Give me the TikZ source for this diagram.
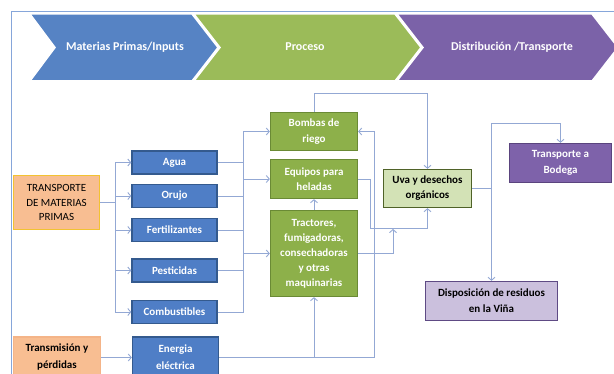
\documentclass[tikz,border=0pt]{standalone}
\usepackage{fontspec}
\setmainfont{Carlito}
\usetikzlibrary{arrows.meta}
\definecolor{chblue}{HTML}{5683C4}
\definecolor{chgreen}{HTML}{9BBB59}
\definecolor{chpurple}{HTML}{7B62A8}
\definecolor{bxblue}{HTML}{4F7EC6}
\definecolor{bxblueD}{HTML}{345A8E}
\definecolor{bxgreen}{HTML}{8DB04A}
\definecolor{bxgreenD}{HTML}{6A8A35}
\definecolor{uvafill}{HTML}{D3E2B6}
\definecolor{uvadraw}{HTML}{4F6228}
\definecolor{bodfill}{HTML}{7E62AA}
\definecolor{boddraw}{HTML}{5A447E}
\definecolor{dispfill}{HTML}{CBC0DD}
\definecolor{dispdraw}{HTML}{5E4A84}
\definecolor{orfill}{HTML}{F8BE92}
\definecolor{ordraw}{HTML}{F2C232}
\definecolor{ordraw2}{HTML}{F4B488}
\definecolor{conncol}{HTML}{93A8D4}
\definecolor{framecol}{HTML}{86A6DA}
\tikzset{
  box/.style={rectangle, line width=1.3pt, align=center, inner sep=1pt,
    font=\fontsize{11}{15.5}\selectfont\bfseries},
  bluebox/.style={box, fill=bxblue, draw=bxblueD, text=white, minimum width=85pt, minimum height=23pt},
  greenbox/.style={box, fill=bxgreen, draw=bxgreenD, text=white, minimum width=87pt},
  conn/.style={draw=conncol, line width=0.9pt},
  arr/.style={conn, -{Straight Barb[length=3pt,width=7pt]}},
  chev/.style={draw=white, line width=1.5pt},
  chevtext/.style={text=white, font=\fontsize{12}{14}\selectfont\bfseries}
}
\begin{document}
\begin{tikzpicture}[x=1pt,y=-1pt]
\useasboundingbox (0,0) rectangle (614,374);
\clip (0,0) rectangle (614,374);
\fill[white] (0,0) rectangle (614,374);
% chevrons
\filldraw[chev, fill=chblue] (30,14) -- (192,14) -- (218,47.5) -- (192,81) -- (30,81) -- (55,47.5) -- cycle;
\filldraw[chev, fill=chgreen] (194,14) -- (395,14) -- (421,47.5) -- (395,81) -- (194,81) -- (220,47.5) -- cycle;
\filldraw[chev, fill=chpurple] (397,14) -- (592,14) -- (618,47.5) -- (592,81) -- (397,81) -- (423,47.5) -- cycle;
% frame
\draw[framecol, line width=1pt] (11,380) -- (11,12) -- (620,12);
\node[chevtext] (ch1) at (125,47) {Materias Primas/Inputs};
\node[chevtext] (ch2) at (305,47) {Proceso};
\node[chevtext] (ch3) at (512,47) {Distribución /Transporte};
% left boxes
\node[box, fill=orfill, draw=ordraw, line width=1.6pt, font=\fontsize{11}{14.5}\selectfont, minimum width=86pt, minimum height=54pt] (tmp) at (56.5,202.5) {TRANSPORTE\\DE MATERIAS\\PRIMAS};
\node[box, fill=orfill, draw=ordraw2, minimum width=87pt, minimum height=41pt, font=\fontsize{11}{17}\selectfont\bfseries] (trans) at (57,357.5) {Transmisión y\\pérdidas};
\node[bluebox] (agua) at (174.5,162.5) {Agua};
\node[bluebox] (orujo) at (174.5,196) {Orujo};
\node[bluebox] (fert) at (174.5,230) {Fertilizantes};
\node[bluebox] (pest) at (174.5,270.5) {Pesticidas};
\node[bluebox] (comb) at (174.5,312) {Combustibles};
\node[bluebox, minimum width=86pt, minimum height=41pt, font=\fontsize{11}{17}\selectfont\bfseries] (energia) at (175.5,357.5) {Energia\\eléctrica};
% process boxes
\node[greenbox, minimum height=38pt] (bombas) at (314,131.5) {Bombas de\\riego};
\node[greenbox, minimum height=39pt] (equipos) at (314,179) {Equipos para\\heladas};
\node[greenbox, minimum height=86pt, font=\fontsize{11}{15}\selectfont\bfseries] (tractores) at (314,253.5) {Tractores,\\fumigadoras,\\consechadoras\\y otras\\maquinarias};
\node[box, fill=uvafill, draw=uvadraw, minimum width=88pt, minimum height=38pt, font=\fontsize{11}{15}\selectfont\bfseries] (uva) at (427.5,188.5) {Uva y desechos\\orgánicos};
\node[box, fill=bodfill, draw=boddraw, text=white, minimum width=102pt, minimum height=39pt, font=\fontsize{11}{16.5}\selectfont\bfseries] (bodega) at (560.5,163) {Transporte a\\Bodega};
\node[box, fill=dispfill, draw=dispdraw, minimum width=132pt, minimum height=39pt, font=\fontsize{11}{16}\selectfont\bfseries] (disp) at (491.5,301) {Disposición de residuos\\en la Viña};
% coordinates
\coordinate (spine) at (115,0);
\coordinate (col) at (243,0);
\coordinate (tj) at (393,229);
% transport to inputs
\foreach \b in {agua,orujo,fert,pest,comb}{
  \draw[arr] (tmp.east) -- (tmp.east -| spine) |- (\b.west);
}
% inputs to process
\draw[conn] (agua.east -| col) -- (comb.east -| col);
\draw[arr] (agua.east) -- (agua.east -| col) |- (bombas.west);
\draw[arr] (agua.east -| col) |- (equipos.west);
\draw[conn] (orujo.east) -- (orujo.east -| col);
\draw[conn] (fert.east) -- (fert.east -| col);
\draw[conn] (pest.east) -- (pest.east -| col);
\draw[arr] (comb.east) -- (comb.east -| col) |- (tractores.west);
% energy
\draw[arr] (trans.east) -- (energia.west);
\draw[arr] (energia.east) -| (tractores.south);
\draw[arr] (energia.east) -- (374,357.5) |- (bombas.east);
% process internal
\draw[arr] (tractores.north) -- (equipos.south);
\draw[arr] (bombas.north) -- (314,93) -| (uva.north);
\draw[arr] (equipos.east) -- (370,179) -- (370,228) -| (uva.south);
\draw[arr] (tractores.east) -| (tj);
% distribution
\draw[arr] (uva.east) -| (disp.north);
\draw[arr] (uva.east) -- (491.5,188.5) -- (491.5,123) -| (bodega.north);
\end{tikzpicture}
\end{document}
